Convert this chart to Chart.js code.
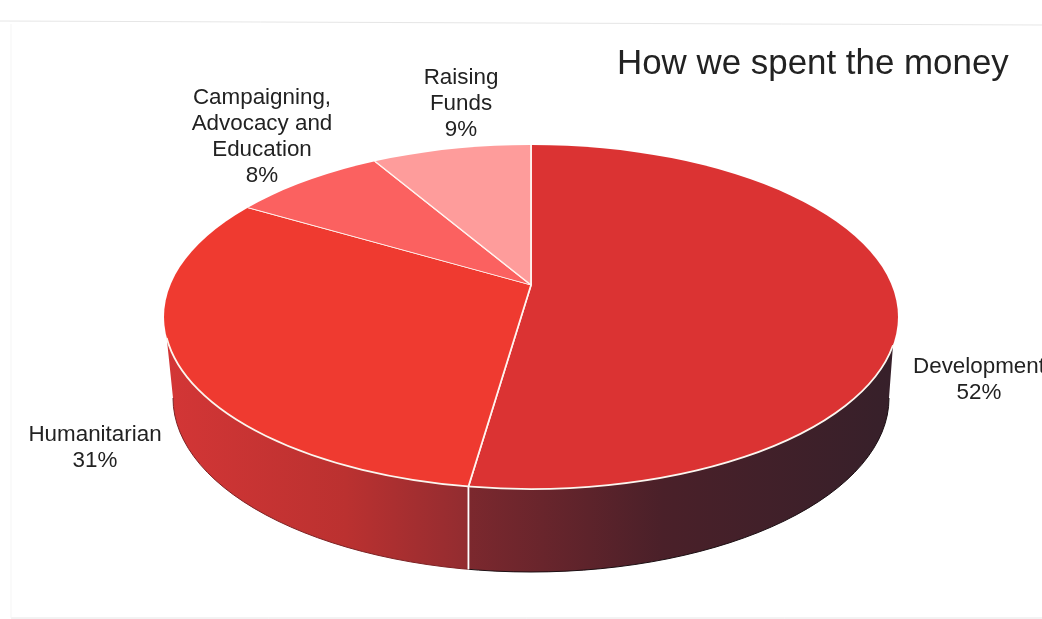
<!DOCTYPE html>
<html>
<head>
<meta charset="utf-8">
<title>How we spent the money</title>
<script src="https://cdn.jsdelivr.net/npm/chart.js@4/dist/chart.umd.js"></script>
<style>
  html, body { margin: 0; padding: 0; background: #fff; overflow: hidden; }
  canvas { display: block; }
</style>
</head>
<body>
<canvas id="chart" width="1042" height="619"></canvas>
<script>
const chartTitle = 'How we spent the money';
const categories = ['Development', 'Humanitarian', 'Campaigning, Advocacy and Education', 'Raising Funds'];
const spendValues = [52.3, 31.1, 8.1, 8.5];
const sliceColors = ['#db3333', '#ef3a30', '#fb6160', '#fe9c9b'];
const labelLines = [['Development'], ['Humanitarian'], ['Campaigning,', 'Advocacy and', 'Education'], ['Raising', 'Funds']];

// top face of the disc, and the off centre point the slices meet at
const TOP = { cx: 531, cy: 317, rx: 367, ry: 172 };
const BOTTOM = { cx: 531, cy: 398, rx: 358, ry: 174 };
const PIVOT = { x: 531, y: 285 };
const LABEL_POS = [[979, 367], [95, 435], [262, 98], [461, 78]];
const LINE_HEIGHT = 26;

function ellipsePath(ctx, e) {
    ctx.beginPath();
    ctx.ellipse(e.cx, e.cy, e.rx, e.ry, 0, 0, Math.PI * 2);
}

// where a slice edge leaves the pivot and hits the top ellipse
function rimPoint(angle) {
    const dx = Math.cos(angle) * TOP.rx;
    const dy = Math.sin(angle) * TOP.ry;
    const oy = PIVOT.y - TOP.cy;
    const a = (dx * dx) / (TOP.rx * TOP.rx) + (dy * dy) / (TOP.ry * TOP.ry);
    const b = 2 * dy * oy / (TOP.ry * TOP.ry);
    const c = (oy * oy) / (TOP.ry * TOP.ry) - 1;
    const t = (-b + Math.sqrt(b * b - 4 * a * c)) / (2 * a);
    return { x: PIVOT.x + dx * t, y: PIVOT.y + dy * t };
}

function wallPath(ctx) {
    ctx.beginPath();
    ctx.ellipse(TOP.cx, TOP.cy, TOP.rx, TOP.ry, 0, 0.165, Math.PI - 0.122, false);
    ctx.ellipse(BOTTOM.cx, BOTTOM.cy, BOTTOM.rx, BOTTOM.ry, 0, Math.PI, 0, true);
    ctx.closePath();
}

function drawWallPart(ctx, x0, x1, stops, edge) {
    const grad = ctx.createLinearGradient(x0, 0, x1, 0);
    stops.forEach(s => grad.addColorStop(s[0], s[1]));
    ctx.save();
    ctx.beginPath();
    ctx.rect(x0, 0, x1 - x0, 619);
    ctx.clip();
    wallPath(ctx);
    ctx.fillStyle = grad;
    ctx.fill();
    ctx.beginPath();
    ctx.ellipse(BOTTOM.cx, BOTTOM.cy, BOTTOM.rx, BOTTOM.ry, 0, 0, Math.PI, false);
    ctx.strokeStyle = edge;
    ctx.lineWidth = 1;
    ctx.stroke();
    ctx.restore();
}

const discPlugin = {
    id: 'disc',
    beforeDraw(chart) {
        const ctx = chart.ctx;
        ctx.save();
        ctx.fillStyle = '#ffffff';
        ctx.fillRect(0, 0, 1042, 619);
        // faint edges of the scanned page
        ctx.strokeStyle = '#e6e6e6';
        ctx.lineWidth = 1;
        ctx.beginPath();
        ctx.moveTo(0, 21);
        ctx.lineTo(1042, 25);
        ctx.moveTo(11, 618);
        ctx.lineTo(1042, 618);
        ctx.stroke();
        ctx.strokeStyle = '#f5f5f5';
        ctx.beginPath();
        ctx.moveTo(11, 24);
        ctx.lineTo(11, 618);
        ctx.stroke();
        ctx.restore();
    },
    beforeDatasetsDraw(chart) {
        const ctx = chart.ctx;
        const arcs = chart.getDatasetMeta(0).data;
        const split = rimPoint(arcs[0].endAngle);

        drawWallPart(ctx, 160, split.x, [[0, '#d43636'], [0.6, '#bb3130'], [1, '#922c30']], '#7d2426');
        drawWallPart(ctx, split.x, 900, [[0, '#7c282e'], [0.45, '#4a2029'], [1, '#36202a']], '#1c1014');

        ctx.save();
        ctx.strokeStyle = '#ffffff';
        ctx.lineWidth = 1.8;
        ctx.beginPath();
        ctx.moveTo(split.x, split.y);
        const bx = (split.x - BOTTOM.cx) / BOTTOM.rx;
        ctx.lineTo(split.x, BOTTOM.cy + BOTTOM.ry * Math.sqrt(1 - bx * bx));
        ctx.stroke();
        ctx.restore();

        // squash the library's round pie onto the tilted top face
        const k = 1.5;
        ctx.save();
        ellipsePath(ctx, TOP);
        ctx.clip();
        ctx.translate(PIVOT.x, PIVOT.y);
        ctx.scale(k, k * TOP.ry / TOP.rx);
        ctx.translate(-arcs[0].x, -arcs[0].y);
    },
    afterDatasetsDraw(chart) {
        const ctx = chart.ctx;
        ctx.restore();

        ctx.save();
        ctx.strokeStyle = '#fbf6ef';
        ctx.lineWidth = 1.8;
        ctx.beginPath();
        ctx.ellipse(TOP.cx, TOP.cy, TOP.rx, TOP.ry, 0, 0.165, Math.PI - 0.122, false);
        ctx.stroke();
        ctx.restore();

        // text
        ctx.save();
        ctx.textAlign = 'left';
        ctx.textBaseline = 'alphabetic';
        ctx.fillStyle = '#222222';
        ctx.font = '34.9px "Liberation Sans", Arial, sans-serif';
        ctx.fillText(chartTitle, 617, 74);
        ctx.textAlign = 'center';
        ctx.textBaseline = 'middle';
        ctx.font = '22.4px "Liberation Sans", Arial, sans-serif';
        labelLines.forEach((lines, i) => {
            const rows = lines.concat(Math.round(spendValues[i]) + '%');
            rows.forEach((row, j) => {
                ctx.fillText(row, LABEL_POS[i][0], LABEL_POS[i][1] + j * LINE_HEIGHT);
            });
        });
        ctx.restore();
    }
};

new Chart(document.getElementById('chart'), {
    type: 'pie',
    data: {
        labels: categories,
        datasets: [{
            data: spendValues,
            backgroundColor: sliceColors,
            borderColor: '#fff3ef',
            borderWidth: 1.2
        }]
    },
    options: {
        responsive: false,
        animation: false,
        layout: { padding: 0 },
        plugins: {
            legend: { display: false },
            tooltip: { enabled: false }
        }
    },
    plugins: [discPlugin]
});
</script>
</body>
</html>
